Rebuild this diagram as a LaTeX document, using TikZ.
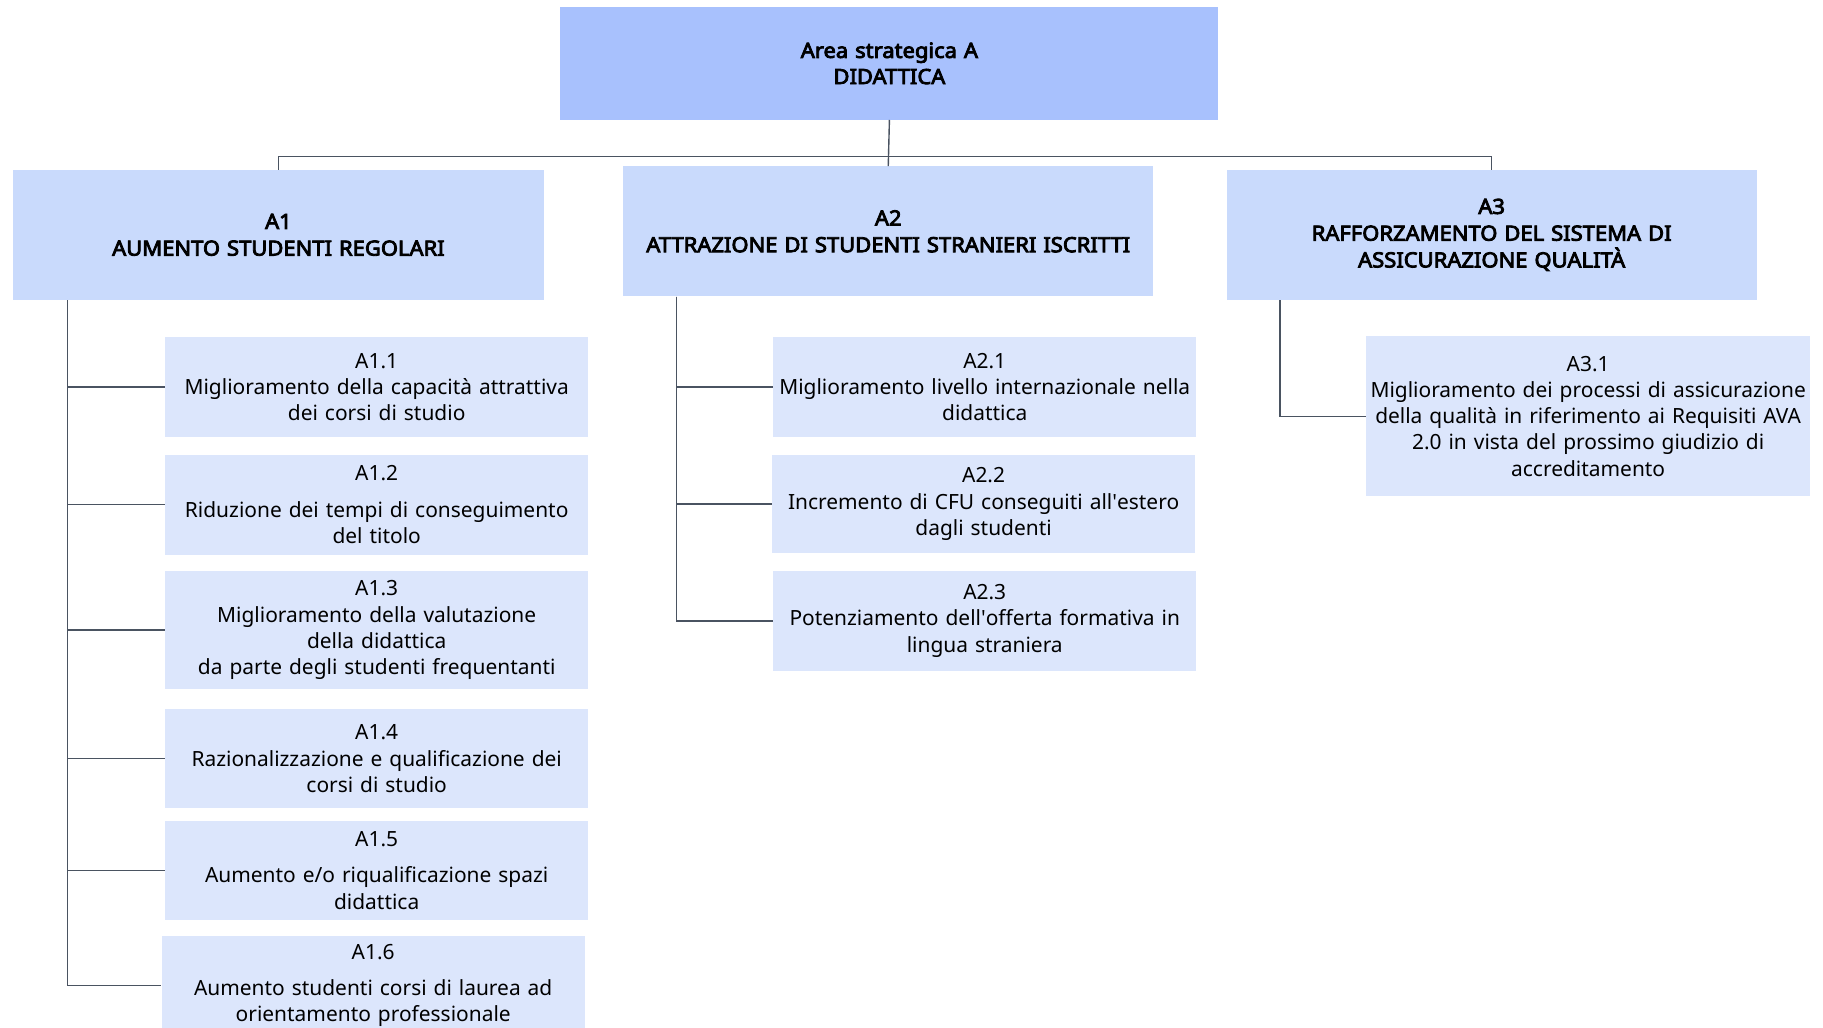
\documentclass[tikz,border=0pt]{standalone}
\usepackage{fontspec}
\setmainfont{Noto Sans}
\newfontfamily\titlef{Noto Sans}[FakeBold=4,FakeStretch=1.05]
\usetikzlibrary{calc}
\definecolor{topc}{HTML}{A8C1FD}
\definecolor{midc}{HTML}{C9DAFC}
\definecolor{lowc}{HTML}{DCE6FC}
\definecolor{linec}{HTML}{4A5361}
\newcommand{\apo}{\textquotesingle}
\tikzset{
  box/.style={draw=none, inner sep=0pt, align=center, font=\fontsize{18}{22.5}\selectfont},
  topbox/.style={box, fill=topc, font=\titlef\fontsize{18}{22.5}\selectfont},
  midbox/.style={box, fill=midc, minimum width=456pt, minimum height=112pt, text width=440pt, font=\titlef\fontsize{18}{23}\selectfont},
  lowbox/.style={box, fill=lowc, minimum width=364pt, minimum height=86pt, text width=362pt},
  conn/.style={draw=linec, line width=1.2pt},
}
\begin{document}
\begin{tikzpicture}[x=1pt,y=-1pt]
\useasboundingbox (0,0) rectangle (1568,884);
% top
\node[topbox, minimum width=566pt, minimum height=97pt, text width=540pt] (top) at (765,54.5) {Area strategica A\\DIDATTICA};
% level 2
\node[midbox] (A1) at (239.5,202) {A1\\AUMENTO STUDENTI REGOLARI};
\node[midbox] (A2) at (764,199) {A2\\ATTRAZIONE DI STUDENTI STRANIERI ISCRITTI};
\node[midbox] (A3) at (1283,202) {A3\\RAFFORZAMENTO DEL SISTEMA DI\\ASSICURAZIONE QUALITÀ};
% level 3 - A1
\node[lowbox] (A11) at (324,333) {A1.1\\Miglioramento della capacità attrattiva\\dei corsi di studio};
\node[lowbox] (A12) at (324,434) {A1.2\\[9pt]Riduzione dei tempi di conseguimento\\del titolo};
\node[lowbox, minimum height=102pt] (A13) at (324,542) {A1.3\\Miglioramento della valutazione\\della didattica\\da parte degli studenti frequentanti};
\node[lowbox, minimum height=85pt] (A14) at (324,652.5) {A1.4\\Razionalizzazione e qualificazione dei\\corsi di studio};
\node[lowbox, minimum height=85pt] (A15) at (324,748.5) {A1.5\\[9pt]Aumento e/o riqualificazione spazi\\didattica};
\node[lowbox, minimum height=85pt] (A16) at (321,847.5) {A1.6\\[9pt]Aumento studenti corsi di laurea ad\\orientamento professionale};
% level 3 - A2
\node[lowbox] (A21) at (847,333) {A2.1\\Miglioramento livello internazionale nella\\didattica};
\node[lowbox, minimum height=85pt] (A22) at (846,433.5) {A2.2\\Incremento di CFU conseguiti all\apo estero\\dagli studenti};
\node[lowbox] (A23) at (847,534) {A2.3\\Potenziamento dell\apo offerta formativa in\\lingua straniera};
% level 3 - A3
\node[lowbox, minimum width=382pt, minimum height=138pt, text width=380pt] (A31) at (1366,358) {A3.1\\Miglioramento dei processi di assicurazione\\della qualità in riferimento ai Requisiti AVA\\2.0 in vista del prossimo giudizio di\\accreditamento};
% connectors top
\draw[conn] (top.south) -- (A2.north);
\draw[conn] (A1.north) -- ++(0,-11) coordinate (barL) -| (A3.north);
% A1 children
\coordinate (s1) at ($(A1.south west)+(47,0)$);
\draw[conn] (s1) |- (A16.west);
\foreach \n in {A11,A12,A13,A14,A15} \draw[conn] (s1) |- (\n.west);
% A2 children
\coordinate (s2) at ($(A2.south west)+(46,0)$);
\draw[conn] (s2) |- (A23.west);
\foreach \n in {A21,A22} \draw[conn] (s2) |- (\n.west);
% A3 child
\coordinate (s3) at ($(A3.south west)+(46,0)$);
\draw[conn] (s3) |- (A31.west);
\end{tikzpicture}
\end{document}
